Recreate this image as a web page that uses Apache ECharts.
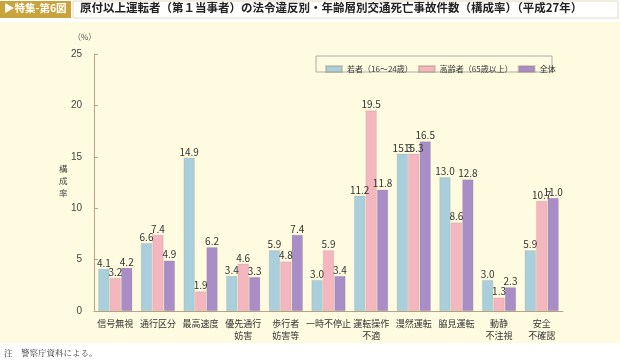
<!DOCTYPE html>
<html><head><meta charset="utf-8">
<script src="https://cdn.jsdelivr.net/npm/echarts@6/dist/echarts.min.js"></script>
<style>html,body{margin:0;padding:0;background:#fff}#c{width:620px;height:362px}</style>
</head><body><div id="c"></div>
<script>
const categories = ['信号無視','通行区分','最高速度','優先通行\n妨害','歩行者\n妨害等','一時不停止','運転操作\n不適','漫然運転','脇見運転','動静\n不注視','安全\n不確認'];
const seriesNames = ['若者（16～24歳）','高齢者（65歳以上）','全体'];
const young = [4.1, 6.6, 14.9, 3.4, 5.9, 3.0, 11.2, 15.3, 13.0, 3.0, 5.9];
const elderly = [3.2, 7.4, 1.9, 4.6, 4.8, 5.9, 19.5, 15.3, 8.6, 1.3, 10.7];
const overall = [4.2, 4.9, 6.2, 3.3, 7.4, 3.4, 11.8, 16.5, 12.8, 2.3, 11.0];
const yTicks = [0, 5, 10, 15, 20, 25];

const colors = ['#a9cfdc', '#f4b6bf', '#a98dc6'];
const font = '"Noto Sans CJK JP", sans-serif';
const chart = echarts.init(document.getElementById('c'), null, {renderer:'canvas'});
const mk = (name, data, i) => ({
  name, type:'bar', data, barWidth: 11, barGap: '4%',
  itemStyle:{color: colors[i], borderColor: 'rgba(150,130,110,0.35)', borderWidth: 0.5},
  label:{show:true, position:'top', distance:1, fontSize:10, color:'#333', fontFamily:font,
    formatter: p => p.value.toFixed(1)}
});
chart.setOption({
  animation:false,
  backgroundColor:'#fff',
  graphic:[
    {type:'rect', shape:{x:0,y:22,width:620,height:321}, style:{fill:'#fefbe0'}},
    {type:'rect', shape:{x:0,y:1,width:71,height:17}, style:{fill:'#c9a43c'}},
    {type:'text', left:4, top:3, style:{text:'▶特集-第6図', fill:'#fff', font:'bold 10.5px '+font}},
    {type:'rect', shape:{x:73,y:1,width:545,height:17}, style:{fill:'#fff', stroke:'#d9d0b8', lineWidth:0.8}},
    {type:'text', left:80, top:2, style:{text:'原付以上運転者（第１当事者）の法令違反別・年齢層別交通死亡事故件数（構成率）（平成27年）', fill:'#222', font:'bold 11.5px '+font}},
    {type:'text', left:73, top:33, style:{text:'（%）', fill:'#555', font:'8px '+font}},
    {type:'text', left:59, top:163, style:{text:'構\n成\n率', fill:'#444', font:'8.5px '+font, lineHeight:12}},
    {type:'rect', shape:{x:316,y:56,width:236,height:16}, style:{fill:'rgba(255,255,255,0)', stroke:'#999', lineWidth:0.8}},
    {type:'text', left:4, top:349, style:{text:'注　警察庁資料による。', fill:'#333', font:'8.5px "Noto Serif CJK JP", '+font}}
  ],
  legend:{
    data: seriesNames, left:320, top:60, itemWidth:16, itemHeight:6, itemGap:5, icon:'rect',
    textStyle:{fontSize:8, color:'#333', fontFamily:font}
  },
  grid:{left:94, right:57, top:54, bottom:51},
  xAxis:{
    type:'category', data:categories,
    axisLine:{lineStyle:{color:'#b5a486', width:1}},
    axisTick:{inside:true, length:4, lineStyle:{color:'#b5a486'}},
    axisLabel:{fontSize:9, color:'#333', fontFamily:font, lineHeight:12, margin:7, interval:0}
  },
  yAxis:{
    type:'value', min:0, max:25, interval:5,
    axisLine:{show:true, lineStyle:{color:'#b5a486'}},
    axisTick:{show:true, inside:true, length:4, lineStyle:{color:'#b5a486'}},
    splitLine:{show:false},
    axisLabel:{fontSize:10, color:'#444', fontFamily:'"Liberation Sans", sans-serif', margin:12,
      formatter: v => yTicks.includes(v) ? String(v) : ''}
  },
  series:[mk(seriesNames[0], young, 0), mk(seriesNames[1], elderly, 1), mk(seriesNames[2], overall, 2)]
});
</script></body></html>
